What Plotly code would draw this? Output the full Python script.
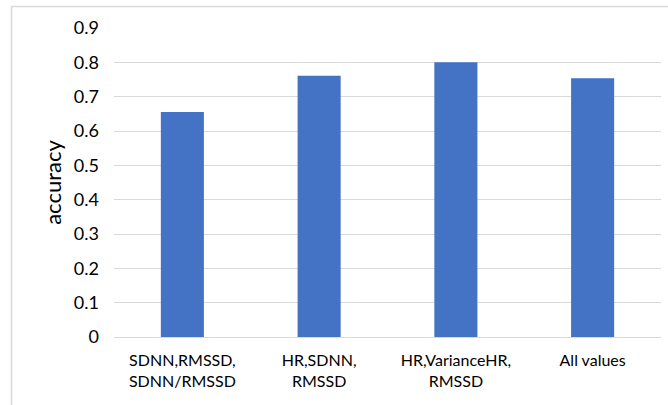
import plotly.graph_objects as go

# Feature sets and the classification accuracy reached with each
feature_sets = [
    "SDNN,RMSSD,<br>SDNN/RMSSD",
    "HR,SDNN,<br>RMSSD",
    "HR,VarianceHR,<br>RMSSD",
    "All values",
]
accuracy = [0.655, 0.761, 0.800, 0.754]

y_ticks = [0, 0.1, 0.2, 0.3, 0.4, 0.5, 0.6, 0.7, 0.8, 0.9]
y_tick_text = ["0", "0.1", "0.2", "0.3", "0.4", "0.5", "0.6", "0.7", "0.8", "0.9"]

fig = go.Figure(
    go.Bar(
        x=feature_sets,
        y=accuracy,
        marker=dict(color="#4472c4", line=dict(width=0)),
        width=0.315,
    )
)

font_family = "Lato, 'Open Sans', sans-serif"

# Thin frame around the chart area (left and top edges)
left_px, right_px, top_px, bottom_px = 114, 661, 28, 337
pw, ph = right_px - left_px, bottom_px - top_px
fx = (11.5 - left_px) / pw
fy = (bottom_px - 6.5) / ph
fig.add_shape(
    type="path",
    xref="paper", yref="paper",
    path=f"M {fx} {-0.3} L {fx} {fy} L {1.1} {fy}",
    line=dict(color="#d9d9d9", width=1.5),
    layer="below",
)

fig.update_layout(
    width=668,
    height=405,
    margin=dict(l=left_px, r=668 - right_px, t=top_px, b=405 - bottom_px),
    paper_bgcolor="white",
    plot_bgcolor="white",
    showlegend=False,
    font=dict(family=font_family, color="#000000"),
    xaxis=dict(
        showgrid=False,
        showline=False,
        ticks="",
        ticklabelstandoff=12,
        tickfont=dict(size=16, color="#000000"),
        fixedrange=True,
    ),
    yaxis=dict(
        range=[0, 0.9],
        tickvals=y_ticks,
        ticktext=y_tick_text,
        showgrid=True,
        gridcolor="#d9d9d9",
        gridwidth=1,
        zeroline=True,
        zerolinecolor="#d9d9d9",
        zerolinewidth=1,
        showline=False,
        ticks="",
        ticklabelstandoff=14,
        tickfont=dict(size=18, color="#000000"),
        title=dict(text="accuracy", font=dict(size=22, color="#000000"), standoff=6),
        fixedrange=True,
    ),
)

fig.write_html("out.html")
